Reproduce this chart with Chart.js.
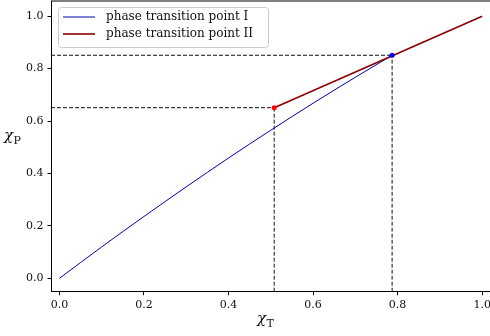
<!DOCTYPE html>
<html>
<head>
<meta charset="utf-8">
<script src="https://cdn.jsdelivr.net/npm/chart.js@4.4.1/dist/chart.umd.min.js"></script>
<style>
html,body{margin:0;padding:0;background:#fff;overflow:hidden;}
#wrap{width:492px;height:336px;}
</style>
</head>
<body>
<div id="wrap"><canvas id="c" width="492" height="336"></canvas></div>
<script>
// ---- data ----
const seriesLabels = ['phase transition point I', 'phase transition point II'];
const curveIx = [0.0, 0.1, 0.2, 0.3, 0.4, 0.5, 0.6, 0.7, 0.787];
const curveIy = [0.0, 0.120, 0.236, 0.349, 0.459, 0.565, 0.668, 0.767, 0.851];
const curveIIx = [0.508, 1.0];
const curveIIy = [0.651, 1.0];
const pointI = [0.787, 0.851];
const pointII = [0.508, 0.651];
const xTicks = [0.0, 0.2, 0.4, 0.6, 0.8, 1.0];
const yTicks = [0.0, 0.2, 0.4, 0.6, 0.8, 1.0];
const xRange = [-0.02, 1.02];
const yRange = [-0.051, 1.058];

const zip = (xs, ys) => xs.map((x, i) => ({x: x, y: ys[i]}));
const SERIF = '"DejaVu Serif", serif';

const dashStyle = (col) => ({borderColor: col, borderWidth: 1, borderDash: [4, 2], pointRadius: 0, order: 5, fill: false});

const datasets = [
  Object.assign({label: 'hI', data: [{x: xRange[0], y: pointI[1]}, {x: pointI[0], y: pointI[1]}]}, dashStyle('#111')),
  Object.assign({label: 'vI', data: [{x: pointI[0], y: yRange[0]}, {x: pointI[0], y: pointI[1]}]}, dashStyle('#111')),
  Object.assign({label: 'hII', data: [{x: xRange[0], y: pointII[1]}, {x: pointII[0], y: pointII[1]}]}, dashStyle('#111')),
  Object.assign({label: 'vII', data: [{x: pointII[0], y: yRange[0]}, {x: pointII[0], y: pointII[1]}]}, dashStyle('#111')),
  {label: seriesLabels[0], data: zip(curveIx, curveIy), borderColor: '#0000a8', borderWidth: 1, pointRadius: 0, cubicInterpolationMode: 'monotone', order: 3},
  {label: seriesLabels[1], data: zip(curveIIx, curveIIy), borderColor: '#8b0000', borderWidth: 1.6, pointRadius: 0, order: 2},
  {label: 'pI', data: [{x: pointI[0], y: pointI[1]}], showLine: false, pointRadius: 2.5, pointBorderWidth: 0, pointBackgroundColor: '#0000ff', order: 1},
  {label: 'pII', data: [{x: pointII[0], y: pointII[1]}], showLine: false, pointRadius: 2.5, pointBorderWidth: 0, pointBackgroundColor: '#ff0000', order: 1}
];

const decor = {
  id: 'decor',
  afterDraw(chart) {
    const ctx = chart.ctx;
    const a = chart.chartArea;
    ctx.save();
    ctx.strokeStyle = '#000';
    ctx.lineWidth = 1;
    ctx.beginPath();
    ctx.moveTo(a.left, a.top);
    ctx.lineTo(a.right, a.top);
    ctx.stroke();
    // legend
    const lx = 58.5, ly = 7.5, lw = 210, lh = 40, r = 3;
    ctx.fillStyle = 'rgba(255,255,255,0.85)';
    ctx.strokeStyle = '#cccccc';
    ctx.beginPath();
    ctx.moveTo(lx + r, ly);
    ctx.arcTo(lx + lw, ly, lx + lw, ly + lh, r);
    ctx.arcTo(lx + lw, ly + lh, lx, ly + lh, r);
    ctx.arcTo(lx, ly + lh, lx, ly, r);
    ctx.arcTo(lx, ly, lx + lw, ly, r);
    ctx.closePath();
    ctx.fill();
    ctx.stroke();
    const items = [
      {label: seriesLabels[0], color: '#0000a8', w: 1, y: 17},
      {label: seriesLabels[1], color: '#8b0000', w: 1.6, y: 34}
    ];
    ctx.font = '12px ' + SERIF;
    ctx.textBaseline = 'middle';
    items.forEach(it => {
      ctx.strokeStyle = it.color;
      ctx.lineWidth = it.w;
      ctx.beginPath();
      ctx.moveTo(63, it.y);
      ctx.lineTo(95, it.y);
      ctx.stroke();
      ctx.fillStyle = '#111';
      ctx.fillText(it.label, 106, it.y);
    });
    // axis titles with subscripts
    ctx.fillStyle = '#111';
    ctx.textBaseline = 'alphabetic';
    ctx.textAlign = 'left';
    ctx.font = 'italic 15px ' + SERIF;
    const cw = ctx.measureText('χ').width;
    ctx.fillText('χ', 257, 323);
    ctx.font = '11px ' + SERIF;
    ctx.fillText('T', 257 + cw + 0.5, 327);
    ctx.font = 'italic 15px ' + SERIF;
    ctx.fillText('χ', 4, 140);
    ctx.font = '11px ' + SERIF;
    ctx.fillText('P', 4 + cw + 0.5, 144);
    ctx.restore();
  }
};

new Chart(document.getElementById('c'), {
  type: 'line',
  data: {datasets: datasets},
  options: {
    responsive: false,
    animation: false,
    devicePixelRatio: 1,
    layout: {autoPadding: false, padding: {top: 1, left: 0, right: 1.4, bottom: 0}},
    plugins: {legend: {display: false}, tooltip: {enabled: false}},
    scales: {
      x: {
        type: 'linear', min: xRange[0], max: xRange[1],
        afterBuildTicks: s => { s.ticks = xTicks.map(v => ({value: v})); },
        afterFit: s => { s.height = 44.3; s.paddingLeft = 0; s.paddingRight = 0; },
        ticks: {font: {family: SERIF, size: 11}, color: '#111', padding: 3, callback: v => v.toFixed(1), maxRotation: 0},
        grid: {drawOnChartArea: false, drawTicks: true, tickLength: 3.5, color: '#000'},
        border: {display: true, color: '#000', width: 1}
      },
      y: {
        type: 'linear', min: yRange[0], max: yRange[1],
        afterBuildTicks: s => { s.ticks = yTicks.map(v => ({value: v})); },
        afterFit: s => { s.width = 51; s.paddingTop = 0; s.paddingBottom = 0; },
        ticks: {font: {family: SERIF, size: 11}, color: '#111', padding: 4, callback: v => v.toFixed(1)},
        grid: {drawOnChartArea: false, drawTicks: true, tickLength: 3.5, color: '#000'},
        border: {display: true, color: '#000', width: 1}
      }
    }
  },
  plugins: [decor]
});
</script>
</body>
</html>
